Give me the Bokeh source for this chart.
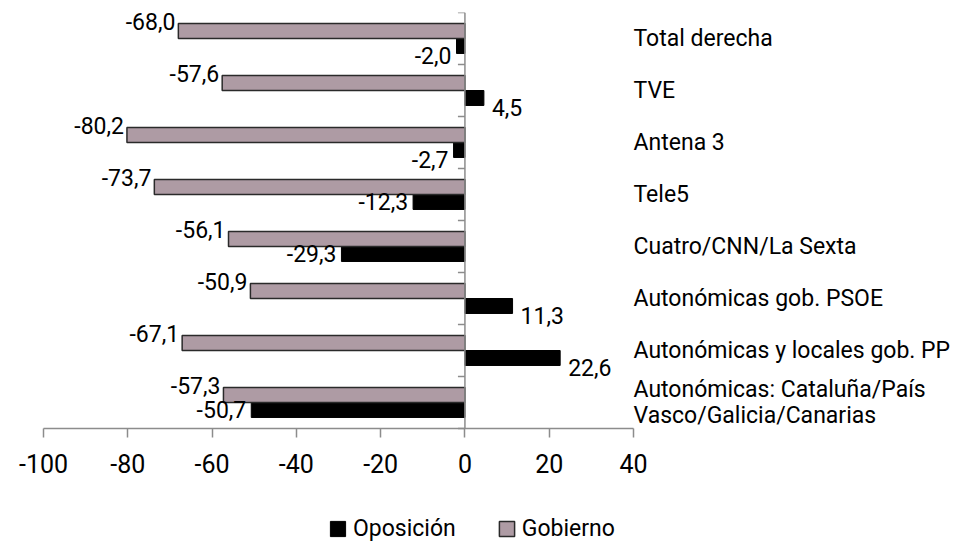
from bokeh.plotting import figure
from bokeh.models import ColumnDataSource, Range1d, FixedTicker, Legend, LegendItem, PrintfTickFormatter
from bokeh.core.properties import value
from bokeh.embed import file_html
from bokeh.resources import INLINE

categories = ["Total derecha", "TVE", "Antena 3", "Tele5", "Cuatro/CNN/La Sexta",
              "Autonómicas gob. PSOE", "Autonómicas y locales gob. PP",
              "Autonómicas: Cataluña/País\nVasco/Galicia/Canarias"]
gobierno = [-68.0, -57.6, -80.2, -73.7, -56.1, -50.9, -67.1, -57.3]
oposicion = [-2.0, 4.5, -2.7, -12.3, -29.3, 11.3, 22.6, -50.7]
x_ticks = [-100, -80, -60, -40, -20, 0, 20, 40]

FONT = "Roboto"
GOB_COLOR = "#AE9BA4"
AXIS_COLOR = "#8C8C8C"

n = len(categories)
px_per_unit = 590 / 140.0
px_per_cat = 52.0
left_pad = 43           # px left of the -100 tick
frame_w = 958
plot_h = 416            # height of the bar area
extra_h = 114           # room below for tick labels and legend
frame_h = plot_h + extra_h
bar_h = 0.288

def fmt(v):
    return f"{v:.1f}".replace(".", ",")

centers = [n - i - 0.5 for i in range(n)]
gob_src = ColumnDataSource(dict(y=[c + bar_h / 2 for c in centers], v=gobierno,
                                lab=[fmt(v) for v in gobierno]))
opo_src = ColumnDataSource(dict(y=[c - bar_h / 2 for c in centers], v=oposicion,
                                lab=[fmt(v) for v in oposicion]))

x0 = x_ticks[0] - left_pad / px_per_unit
p = figure(frame_width=frame_w, frame_height=frame_h, output_backend="svg",
           toolbar_location=None,
           x_range=Range1d(x0, x0 + frame_w / px_per_unit),
           y_range=Range1d(-extra_h / px_per_cat, n),
           min_border_left=0, min_border_right=0, min_border_top=12,
           min_border_bottom=0)
p.outline_line_color = None
p.grid.visible = False
p.background_fill_color = "white"
p.yaxis.visible = False

r_opo = p.hbar(y="y", right="v", left=0, height=bar_h, source=opo_src,
               fill_color="black", line_color="black", line_width=1)
r_gob = p.hbar(y="y", right="v", left=0, height=bar_h, source=gob_src,
               fill_color=GOB_COLOR, line_color="#2a2a2a", line_width=1.5)

# vertical axis at x = 0 with category boundary ticks
bounds_y = list(range(n + 1))
p.segment(x0=[0], y0=[0], x1=[0], y1=[n], line_color=AXIS_COLOR, line_width=1.5)
p.segment(x0=[-7 / px_per_unit] * len(bounds_y), y0=bounds_y,
          x1=[0] * len(bounds_y), y1=bounds_y, line_color=AXIS_COLOR, line_width=1.5)

# x axis, placed at y = 0
xa = p.xaxis[0]
xa.fixed_location = 0
xa.ticker = FixedTicker(ticks=x_ticks)
xa.formatter = PrintfTickFormatter(format="%d")
xa.bounds = (x_ticks[0], x_ticks[-1])
xa.axis_line_color = AXIS_COLOR
xa.axis_line_width = 1.5
xa.major_tick_line_color = AXIS_COLOR
xa.major_tick_line_width = 1.5
xa.major_tick_out = 9
xa.major_tick_in = 0
xa.minor_tick_line_color = None
xa.major_label_text_font = FONT
xa.major_label_text_font_size = "25px"
xa.major_label_text_color = "black"
xa.major_label_standoff = 16

# value labels, Gobierno
p.text(x="v", y="y", text="lab", source=gob_src, text_align="right",
       text_baseline="middle", x_offset=-3, y_offset=-10,
       text_font=value(FONT), text_font_size="23px", text_color="black")

# value labels, Oposición
neg = [i for i, v in enumerate(oposicion) if v < 0]
pos = [i for i, v in enumerate(oposicion) if v >= 0]
def sub(idx):
    ys = [opo_src.data["y"][i] for i in idx]
    vs = [oposicion[i] for i in idx]
    offs = [10 if (v > 0 or abs(v) < 5) else 0 for v in vs]
    return ColumnDataSource(dict(y=ys, v=vs, lab=[fmt(v) for v in vs], off=offs))
p.text(x="v", y="y", text="lab", source=sub(neg), text_align="right",
       text_baseline="middle", x_offset=-5, y_offset="off",
       text_font=value(FONT), text_font_size="23px", text_color="black")
p.text(x="v", y="y", text="lab", source=sub(pos), text_align="left",
       text_baseline="middle", x_offset=8, y_offset="off",
       text_font=value(FONT), text_font_size="23px", text_color="black")

# category labels on the right
cat_src = ColumnDataSource(dict(x=[x_ticks[-1]] * n, y=centers, t=categories))
p.text(x="x", y="y", text="t", source=cat_src, text_align="left",
       text_baseline="middle", x_offset=0, text_line_height=0.95,
       text_font=value(FONT), text_font_size="23px", text_color="black")

legend = Legend(items=[LegendItem(label="Oposición", renderers=[r_opo]),
                       LegendItem(label="Gobierno", renderers=[r_gob])],
                orientation="horizontal", location=(328, 0),
                label_text_font=FONT, label_text_font_size="23px",
                label_text_color="black",
                glyph_width=19, glyph_height=19, label_standoff=6, spacing=41,
                padding=0, margin=0, border_line_color=None,
                background_fill_alpha=0)
p.add_layout(legend, "center")

open("out.html", "w").write(file_html(p, INLINE))
